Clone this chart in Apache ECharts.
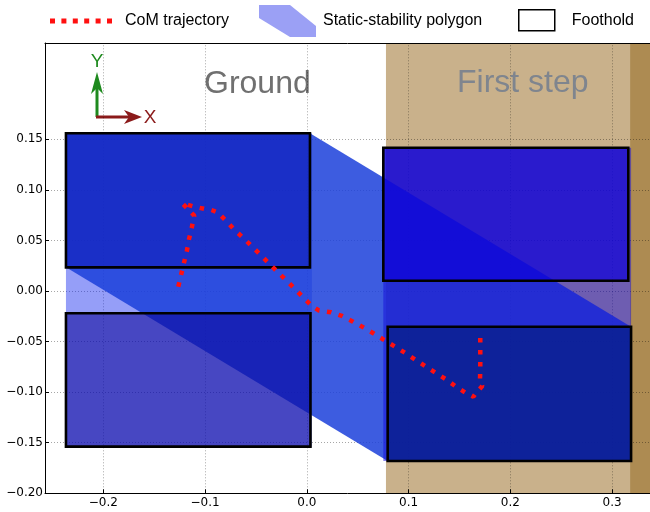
<!DOCTYPE html>
<html><head><meta charset="utf-8">
<script src="https://cdn.jsdelivr.net/npm/echarts@6/dist/echarts.min.js"></script>
<style>html,body{margin:0;padding:0;background:#fff}#c{width:650px;height:512px}</style>
</head><body><div id="c"></div>
<script>
// ---- data ----
const xTicks = [-0.2, -0.1, 0.0, 0.1, 0.2, 0.3];
const yTicks = [-0.2, -0.15, -0.1, -0.05, 0.0, 0.05, 0.1, 0.15];
const gridY = [-0.15, -0.1, -0.05, 0.0, 0.05, 0.1, 0.15];

// CoM trajectory
const comX = [-0.1263,-0.1236,-0.1207,-0.1180,-0.1158,-0.1131,-0.1106,-0.1224,-0.1106,-0.1001,-0.0945,-0.0876,-0.0794,-0.0716,-0.0620,-0.0536,-0.0450,-0.0369,-0.0283,-0.0198,-0.0111,-0.0028,0.0058,0.0120,0.0238,0.0346,0.0454,0.0562,0.0662,0.0764,0.0867,0.0968,0.1070,0.1172,0.1273,0.1368,0.1457,0.1555,0.1637,0.1663,0.1725,0.1702,0.1705,0.1705,0.1705,0.1705];
const comY = [0.0043,0.0158,0.0280,0.0389,0.0511,0.0626,0.0745,0.0867,0.0834,0.0811,0.0804,0.0778,0.0695,0.0610,0.0521,0.0438,0.0353,0.0270,0.0185,0.0102,0.0015,-0.0072,-0.0155,-0.0193,-0.0210,-0.0247,-0.0303,-0.0363,-0.0423,-0.0487,-0.0550,-0.0613,-0.0682,-0.0748,-0.0814,-0.0873,-0.0939,-0.1002,-0.1045,-0.1011,-0.0939,-0.0880,-0.0764,-0.0650,-0.0534,-0.0418];

// Footholds: [xmin, xmax, ymin, ymax]
const footholdLeftFront  = [-0.2367, 0.0031, 0.0234, 0.1559];
const footholdLeftHind   = [-0.2367, 0.0036, -0.1539, -0.0220];
const footholdStepFront  = [0.0752, 0.3160, 0.0102, 0.1417];
const footholdStepHind   = [0.0795, 0.3187, -0.1681, -0.0353];
const footholds = [footholdLeftFront, footholdLeftHind, footholdStepFront, footholdStepHind];

// Static-stability polygons (vertices x,y)
const polyGround = [[-0.2367,0.1559],[0.0050,0.1559],[0.0050,-0.1539],[-0.2367,-0.1539]];
const polyDiagonal = [[-0.2367,0.1559],[0.0031,0.1559],[0.3187,-0.0353],[0.3187,-0.1681],[0.0795,-0.1681],[-0.2367,0.0234]];
const polyStep = [[0.0752,0.1417],[0.3187,0.1417],[0.3187,-0.1681],[0.0752,-0.1681]];
const stabilityPolygons = [polyGround, polyDiagonal, polyStep];

// background photo bands [xStart, xEnd]
const stepBand = [0.0778, 0.3177];
const edgeBand = [0.3177, 0.3373];

const xMin = -0.2573, xMax = 0.3373, yMin = -0.2, yMax = 0.2452;

// ---- styles ----
const polyColors = ['rgba(20,40,240,0.45)', 'rgba(27,64,219,0.85)', 'rgba(20,10,215,0.5)'];
const footFills = ['rgba(14,27,184,0.6)', 'rgba(8,0,150,0.55)', 'rgba(13,0,216,0.7)', 'rgba(0,27,117,0.6)'];
const fmtMinus = (s) => s.replace('-', '\u2212');

const chart = echarts.init(document.getElementById('c'), null, {renderer: 'canvas'});

const polySeriesRender = (params, api) => {
  const poly = stabilityPolygons[params.dataIndex];
  return {
    type: 'polygon',
    shape: {points: poly.map(p => api.coord(p))},
    style: {fill: polyColors[params.dataIndex], stroke: null}
  };
};
const footRender = (params, api) => {
  const f = footholds[params.dataIndex];
  const pts = [[f[0], f[3]], [f[1], f[3]], [f[1], f[2]], [f[0], f[2]]].map(p => api.coord(p));
  return {
    type: 'polygon',
    shape: {points: pts},
    style: {fill: footFills[params.dataIndex], stroke: '#000', lineWidth: 2.6}
  };
};

const dotIcon = 'path://M0,0h5v5h-5z M11.4,0h5v5h-5z M22.8,0h5v5h-5z M34.2,0h5v5h-5z M45.6,0h5v5h-5z M57,0h5v5h-5z';
const polyIcon = 'path://M0,0 L31,0 L57,21 L57,32 L31,32 L0,13 Z';
const legendText = {fontFamily: 'Liberation Sans', fontSize: 16, color: '#000', lineHeight: 16};

const option = {
  animation: false,
  backgroundColor: '#fff',
  grid: {left: 45, right: 0, top: 43, bottom: 18.7, containLabel: false},
  legend: [
    {left: 50, top: 13, padding: 0, itemWidth: 62, itemHeight: 5, selectedMode: false,
     textStyle: Object.assign({padding: [0,0,0,8]}, legendText),
     data: [{name: 'CoM trajectory', icon: dotIcon, itemStyle: {color: '#ff1010', borderWidth: 0}}]},
    {left: 259, top: 5, padding: 0, itemWidth: 57, itemHeight: 32, selectedMode: false,
     textStyle: Object.assign({padding: [0,0,0,2]}, legendText),
     data: [{name: 'Static-stability polygon', icon: polyIcon, itemStyle: {color: '#9ba0f5', borderWidth: 0}}]},
    {left: 518, top: 9, padding: 0, itemWidth: 36, itemHeight: 21, selectedMode: false,
     textStyle: Object.assign({padding: [0,0,0,12]}, legendText),
     data: [{name: 'Foothold', icon: 'rect', itemStyle: {color: '#fff', borderColor: '#000', borderWidth: 1.5}}]}
  ],
  xAxis: [
    {type: 'value', min: xMin, max: xMax, position: 'bottom', z: 10,
     axisLine: {show: true, onZero: false, lineStyle: {color: '#000', width: 1}},
     axisTick: {show: true, inside: true, length: 4, customValues: xTicks, lineStyle: {color: '#000'}},
     axisLabel: {customValues: xTicks, margin: 4, fontFamily: 'DejaVu Sans', fontSize: 12, color: '#000',
       formatter: v => fmtMinus(v.toFixed(1))},
     splitLine: {show: false}},
    {type: 'value', min: xMin, max: xMax, position: 'top', z: 10,
     axisLine: {show: true, onZero: false, lineStyle: {color: '#000', width: 1}},
     axisTick: {show: false}, axisLabel: {show: false}, splitLine: {show: false}}
  ],
  yAxis: [
    {type: 'value', min: yMin, max: yMax, position: 'left', z: 10,
     axisLine: {show: true, onZero: false, lineStyle: {color: '#000', width: 1}},
     axisTick: {show: true, inside: true, length: 4, customValues: yTicks, lineStyle: {color: '#000'}},
     axisLabel: {customValues: yTicks, margin: 2, fontFamily: 'DejaVu Sans', fontSize: 12, color: '#000',
       formatter: v => fmtMinus(v.toFixed(2))},
     splitLine: {show: false}}
  ],
  graphic: [
    {type: 'text', z: 2, silent: true, style: {text: 'Ground', x: 204, y: 84, fontFamily: 'Liberation Sans', fontSize: 32, fill: '#707070', textVerticalAlign: 'middle', verticalAlign: 'middle'}},
    {type: 'text', z: 2, silent: true, style: {text: 'First step', x: 457, y: 83, fontFamily: 'Liberation Sans', fontSize: 32, fill: '#7f858e', textVerticalAlign: 'middle', verticalAlign: 'middle'}},
    // XY frame icon
    {type: 'line', z: 2, silent: true, shape: {x1: 97, y1: 117, x2: 97, y2: 84}, style: {stroke: '#1e8a1e', lineWidth: 3}},
    {type: 'polygon', z: 2, silent: true, shape: {points: [[97,72],[103,94],[97,88],[91,94]]}, style: {fill: '#1e8a1e'}},
    {type: 'text', z: 2, silent: true, style: {text: 'Y', x: 97, y: 62, fontFamily: 'Liberation Sans', fontSize: 19, fill: '#1e8a1e', align: 'center', verticalAlign: 'middle'}},
    {type: 'line', z: 2, silent: true, shape: {x1: 96, y1: 117, x2: 130, y2: 117}, style: {stroke: '#8b1a1a', lineWidth: 3}},
    {type: 'polygon', z: 2, silent: true, shape: {points: [[142,117],[124,110],[129,117],[124,124]]}, style: {fill: '#8b1a1a'}},
    {type: 'text', z: 2, silent: true, style: {text: 'X', x: 150, y: 118, fontFamily: 'Liberation Sans', fontSize: 19, fill: '#8b1a1a', align: 'center', verticalAlign: 'middle'}}
  ],
  series: [
    {name: 'photo', type: 'line', data: [], z: 1, silent: true,
     markArea: {silent: true, z: 1, data: [
       [{xAxis: stepBand[0], yAxis: yMin, itemStyle: {color: '#c9b18b', opacity: 1}}, {xAxis: stepBand[1], yAxis: yMax}],
       [{xAxis: edgeBand[0], yAxis: yMin, itemStyle: {color: '#ad8b52', opacity: 1}}, {xAxis: edgeBand[1], yAxis: yMax}]
     ]}},
    {name: 'grid', type: 'line', data: [], z: 2, silent: true,
     markLine: {silent: true, z: 2, symbol: ['none', 'none'], label: {show: false},
       lineStyle: {color: 'rgba(0,0,0,0.35)', width: 1, type: [1, 2]},
       data: xTicks.map(v => ({xAxis: v})).concat(gridY.map(v => ({yAxis: v})))}},
    {name: 'Static-stability polygon', type: 'custom', z: 3, silent: true,
     renderItem: polySeriesRender, data: stabilityPolygons.map((p, i) => i)},
    {name: 'Foothold', type: 'custom', z: 4, silent: true,
     renderItem: footRender, data: footholds.map((f, i) => i)},
    {name: 'CoM trajectory', type: 'line', z: 5, silent: true, symbol: 'none',
     data: comX.map((x, i) => [x, comY[i]]),
     lineStyle: {color: '#ff1010', width: 4.5, type: [4.5, 7.5], cap: 'butt'}}
  ]
};
chart.setOption(option);
</script></body></html>
